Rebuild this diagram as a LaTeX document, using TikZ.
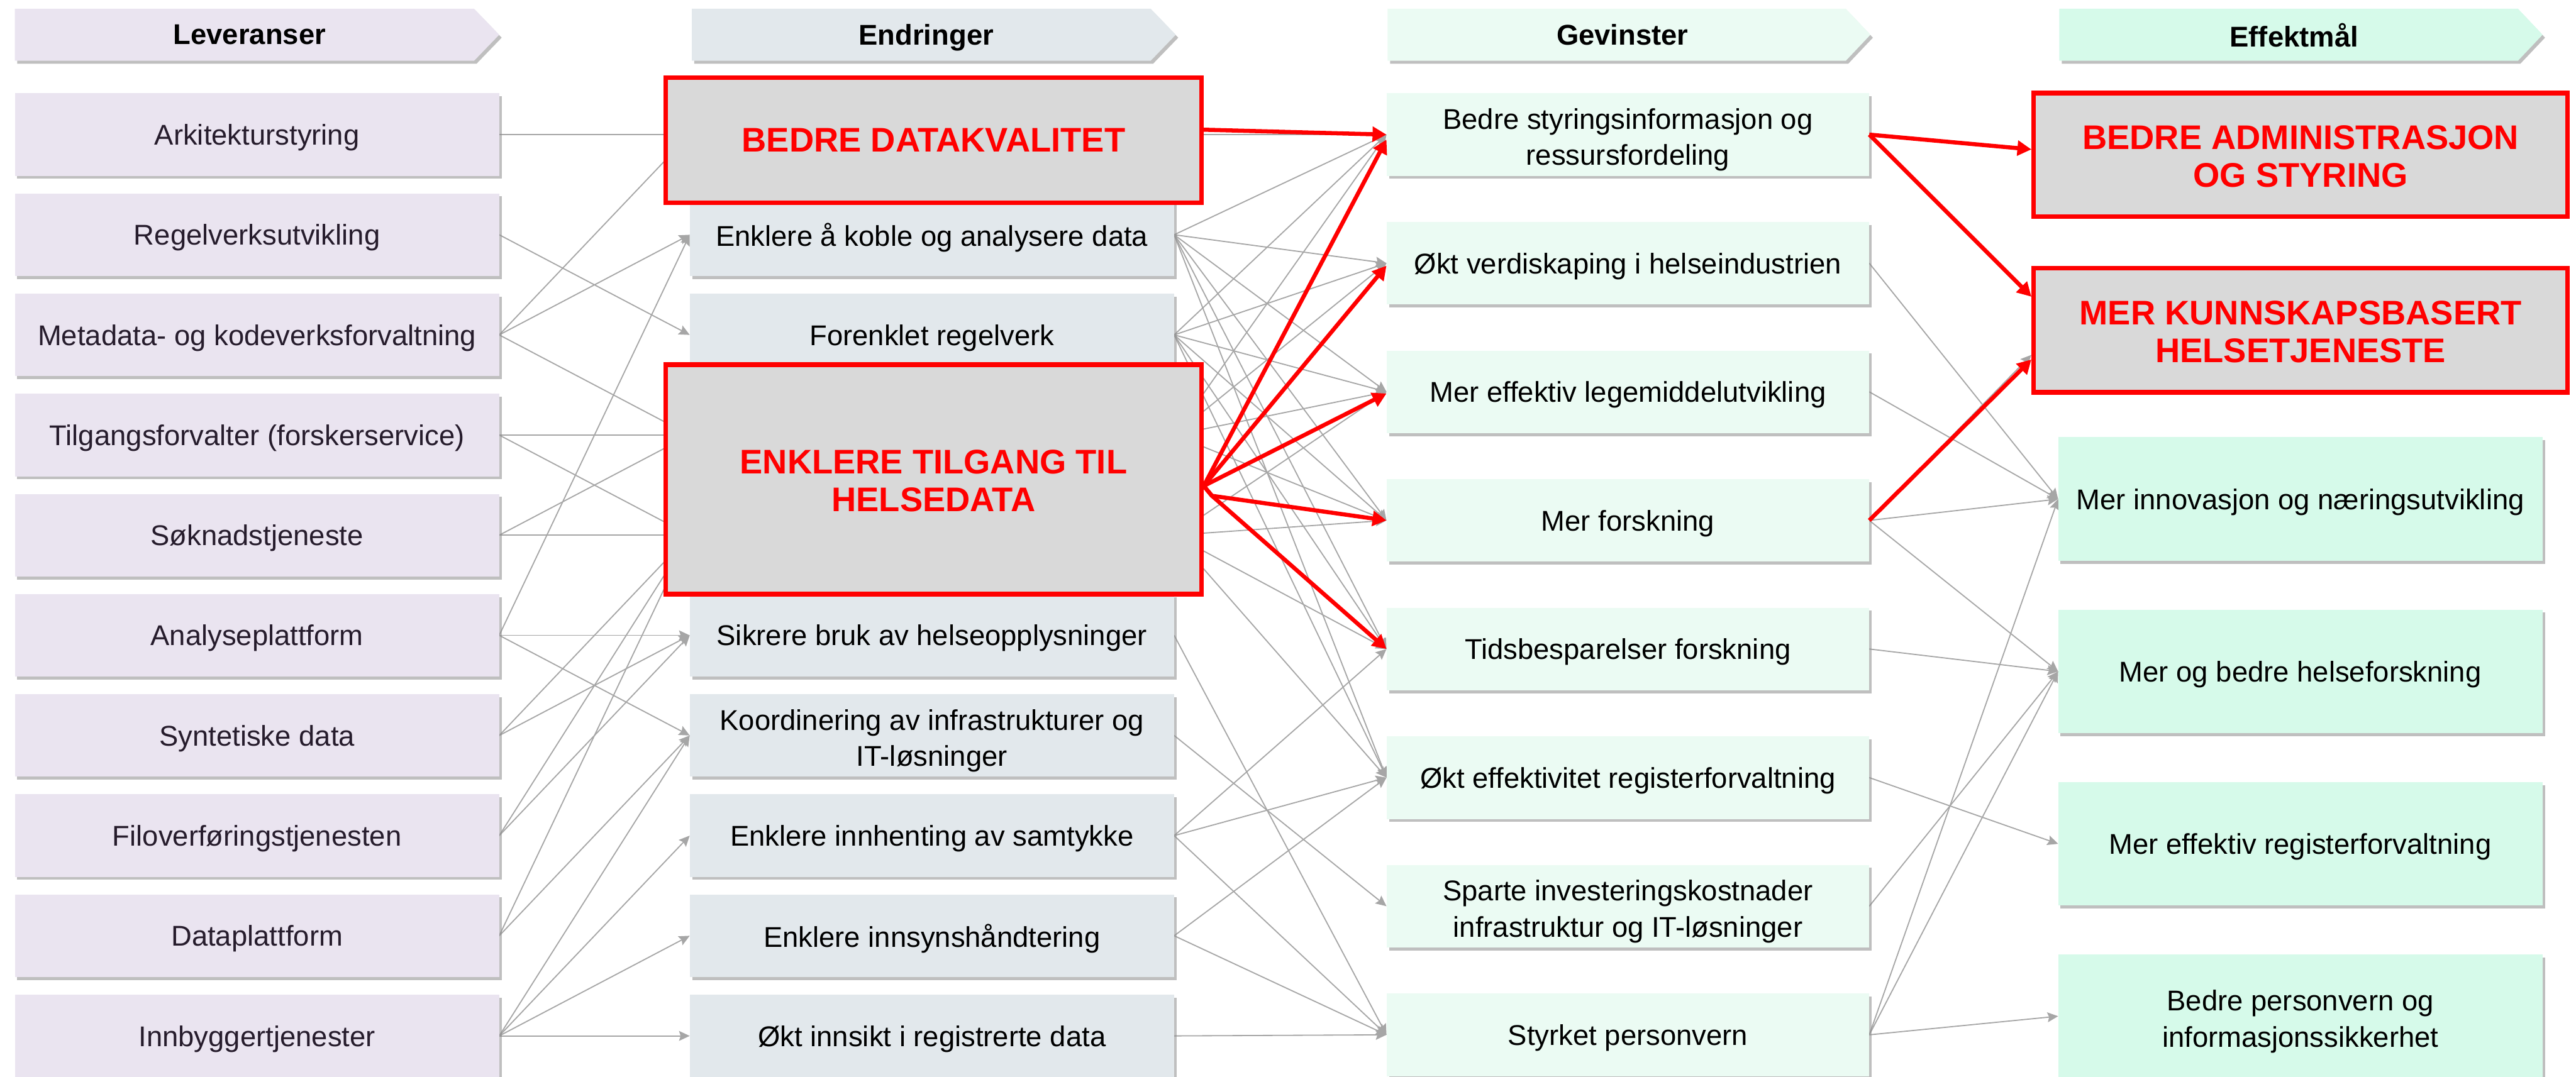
\documentclass[tikz,border=0pt]{standalone}
\usepackage{fontspec}
\setmainfont{Liberation Sans}
\usetikzlibrary{arrows.meta,shadows}

\definecolor{levfill}{HTML}{EAE4F0}
\definecolor{endfill}{HTML}{E2E8EC}
\definecolor{gevfill}{HTML}{EBFBF3}
\definecolor{efffill}{HTML}{D6FAEA}
\definecolor{hlfill}{HTML}{D9D9D9}
\definecolor{hlred}{HTML}{FF0000}
\definecolor{linkgray}{HTML}{A6A6A6}
\definecolor{levtext}{HTML}{261C2C}

\newcommand{\twoline}[2]{\begin{tabular}[b]{@{}c@{}}#1\\#2\end{tabular}}

\pgfdeclarelayer{canvas}
\pgfdeclarelayer{links}
\pgfsetlayers{canvas,links,main}

\tikzset{
  softshadow/.style={drop shadow={shadow xshift=1.5pt, shadow yshift=-1.8pt, fill=black!45, opacity=0.55}},
  card/.style={minimum width=295pt, minimum height=50.3pt, inner sep=0pt, outer sep=0pt,
    text depth=0pt, font=\fontsize{17.4}{22}\selectfont, softshadow},
  lev/.style={card, fill=levfill, text=levtext},
  endr/.style={card, fill=endfill, text=black},
  gev/.style={card, fill=gevfill, text=black, minimum width=294pt},
  eff/.style={card, fill=efffill, text=black, minimum height=75.3pt},
  ghost/.style={minimum width=295pt, minimum height=50.3pt, inner sep=0pt, outer sep=0pt},
  focus/.style={draw=hlred, line width=2.8pt, fill=hlfill, text=hlred, inner sep=0pt,
    text depth=0pt, font=\bfseries\fontsize{20.8}{23}\selectfont},
  band/.style={softshadow},
  headtext/.style={font=\bfseries\fontsize{17.4}{20}\selectfont, inner sep=0pt, text depth=0pt},
  link/.style={draw=linkgray, line width=0.7pt, -{Stealth[length=6.5pt,width=6pt,inset=1pt]}},
  keylink/.style={draw=hlred, line width=2.5pt, line join=round, -{Triangle[length=8.5pt,width=9pt]}},
}

\begin{document}
\begin{tikzpicture}[x=1pt,y=-1pt]
\begin{pgfonlayer}{canvas}
  \fill[white] (0,0) rectangle (1568.67,656);
\end{pgfonlayer}
\useasboundingbox (0,0) rectangle (1568.67,656);

% column headers
\path[band, fill=levfill] (9,5.3) -- (288.7,5.3) -- (304,21.15) -- (288.7,37) -- (9,37) -- cycle;
\node[headtext] (hLev) at (152,21.2) {Leveranser};
\path[band, fill=endfill] (421.3,5.3) -- (700.7,5.3) -- (716,21.15) -- (700.7,37) -- (421.3,37) -- cycle;
\node[headtext] (hEnd) at (564,21.2) {Endringer};
\path[band, fill=gevfill] (845,5.3) -- (1124,5.3) -- (1139,21.15) -- (1124,37) -- (845,37) -- cycle;
\node[headtext] (hGev) at (988,21.2) {Gevinster};
\path[band, fill=efffill] (1254,5.3) -- (1533.3,5.3) -- (1548.3,21.15) -- (1533.3,37) -- (1254,37) -- cycle;
\node[headtext] (hEff) at (1397,21.2) {Effektmål};

% Leveranser
\node[lev] (L1) at (156.5,82) {Arkitekturstyring};
\node[lev] (L2) at (156.5,143) {Regelverksutvikling};
\node[lev] (L3) at (156.5,204) {Metadata- og kodeverksforvaltning};
\node[lev] (L4) at (156.5,265) {Tilgangsforvalter (forskerservice)};
\node[lev] (L5) at (156.5,326) {Søknadstjeneste};
\node[lev] (L6) at (156.5,387) {Analyseplattform};
\node[lev] (L7) at (156.5,448) {Syntetiske data};
\node[lev] (L8) at (156.5,509) {Filoverføringstjenesten};
\node[lev] (L9) at (156.5,570) {Dataplattform};
\node[lev] (L10) at (156.5,631) {Innbyggertjenester};

% Endringer
\node[ghost] (E1) at (567.5,82) {};
\node[endr] (E2) at (567.5,143) {Enklere å koble og analysere data};
\node[endr] (E3) at (567.5,204) {Forenklet regelverk};
\node[ghost] (E4) at (567.5,265) {};
\node[ghost] (E5) at (567.5,326) {};
\node[endr] (E6) at (567.5,387) {Sikrere bruk av helseopplysninger};
\node[endr] (E7) at (567.5,448) {\twoline{Koordinering av infrastrukturer og}{IT-løsninger}};
\node[endr] (E8) at (567.5,509) {Enklere innhenting av samtykke};
\node[endr] (E9) at (567.5,570) {Enklere innsynshåndtering};
\node[endr] (E10) at (567.5,631) {Økt innsikt i registrerte data};

% highlighted changes
\node[focus, minimum width=326.2pt, minimum height=76.2pt] (R1) at (568.5,85.5) {BEDRE DATAKVALITET};
\node[focus, minimum width=326.2pt, minimum height=139.7pt] (R2) at (568.5,292) {\twoline{ENKLERE TILGANG TIL}{HELSEDATA}};

% Gevinster
\node[gev] (G1) at (991.3,82) {\twoline{Bedre styringsinformasjon og}{ressursfordeling}};
\node[gev] (G2) at (991.3,160.33) {Økt verdiskaping i helseindustrien};
\node[gev] (G3) at (991.3,238.67) {Mer effektiv legemiddelutvikling};
\node[gev] (G4) at (991.3,317) {Mer forskning};
\node[gev] (G5) at (991.3,395.33) {Tidsbesparelser forskning};
\node[gev] (G6) at (991.3,473.67) {Økt effektivitet registerforvaltning};
\node[gev] (G7) at (991.3,552) {\twoline{Sparte investeringskostnader}{infrastruktur og IT-løsninger}};
\node[gev] (G8) at (991.3,630.33) {Styrket personvern};

% Effektmål
\node[focus, minimum width=325.2pt, minimum height=75.2pt] (F1) at (1401,94.3) {\twoline{BEDRE ADMINISTRASJON}{OG STYRING}};
\node[focus, minimum width=325.2pt, minimum height=75.5pt] (F2) at (1401,201.2) {\twoline{MER KUNNSKAPSBASERT}{HELSETJENESTE}};
\node[eff] (F3) at (1400.8,304) {Mer innovasjon og næringsutvikling};
\node[eff] (F4) at (1400.8,409) {Mer og bedre helseforskning};
\node[eff] (F5) at (1400.8,514) {Mer effektiv registerforvaltning};
\node[eff] (F6) at (1400.8,619) {\twoline{Bedre personvern og}{informasjonssikkerhet}};

% thin grey links, kept beneath the boxes
\begin{pgfonlayer}{links}
  \foreach \s/\t in {L1/E1, L2/E3, L3/E1, L3/E2, L3/E4, L4/E4, L4/E5, L5/E4, L5/E5,
                     L6/E2, L6/E6, L6/E7, L7/E5, L7/E6, L8/E5, L8/E6, L9/E5, L9/E7,
                     L10/E7, L10/E8, L10/E9, L10/E10}
    \draw[link] (\s.east) -- (\t.west);
  \foreach \s/\t in {E1/G1, E2/G1, E2/G2, E2/G3, E2/G4, E2/G5, E2/G6,
                     E3/G1, E3/G2, E3/G3, E3/G4, E3/G5, E3/G6,
                     E4/G1, E4/G2, E4/G3, E4/G4, E5/G3, E5/G4, E5/G5, E5/G6,
                     E6/G8, E7/G7, E8/G5, E8/G6, E8/G8, E9/G6, E9/G8, E10/G8}
    \draw[link] (\s.east) -- (\t.west);
  \foreach \s/\t in {G2/F3, G3/F3, G4/F3, G4/F4, G5/F4, G6/F5, G7/F4, G8/F3, G8/F4, G8/F6}
    \draw[link] (\s.east) -- (\t.west);
  \draw[link] (G1.east) -- ([yshift=3.3pt]F1.west);
  \draw[link] (G1.east) -- ([yshift=20.5pt]F2.west);
  \draw[link] (G4.east) -- ([yshift=-15pt]F2.west);
\end{pgfonlayer}

% emphasised links
\coordinate (R2out) at ([yshift=-4pt]R2.east);
\coordinate (R2low) at ([xshift=5pt,yshift=-10pt]R2.east);
\draw[keylink] ([yshift=6.5pt]R1.east) -- (G1.west);
\draw[keylink] (R2out) -- ([yshift=-3pt]G1.west);
\draw[keylink] (R2out) -- ([yshift=-1.5pt]G2.west);
\draw[keylink] (R2out) -- ([yshift=-1pt]G3.west);
\draw[keylink] (R2out) -- (R2low) -- (G4.west);
\draw[keylink] (R2out) -- (R2low) -- (G5.west);
\draw[keylink] (G1.east) -- ([yshift=3.3pt]F1.west);
\draw[keylink] (G1.east) -- ([yshift=20.5pt]F2.west);
\draw[keylink] (G4.east) -- ([yshift=-17.8pt]F2.west);
\end{tikzpicture}
\end{document}
